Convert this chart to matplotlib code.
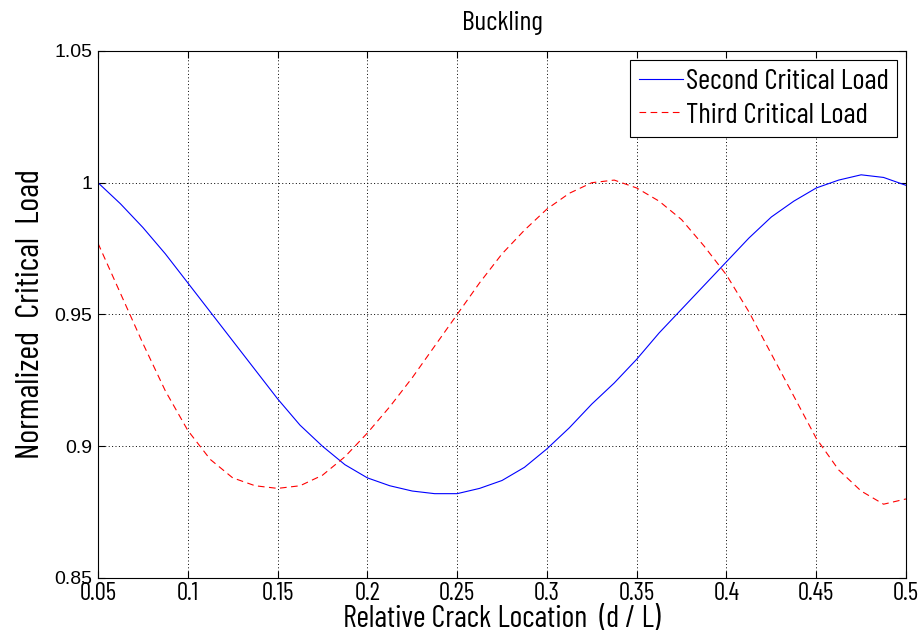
import numpy as np
import matplotlib
matplotlib.use('Agg')
import matplotlib.pyplot as plt

# Relative crack location d/L
crack_loc = [0.05, 0.0625, 0.075, 0.0875, 0.1, 0.1125, 0.125, 0.1375, 0.15, 0.1625,
             0.175, 0.1875, 0.2, 0.2125, 0.225, 0.2375, 0.25, 0.2625, 0.275, 0.2875,
             0.3, 0.3125, 0.325, 0.3375, 0.35, 0.3625, 0.375, 0.3875, 0.4, 0.4125,
             0.425, 0.4375, 0.45, 0.4625, 0.475, 0.4875, 0.5]

# Normalized critical loads
second_load = [1.000, 0.992, 0.983, 0.973, 0.962, 0.951, 0.940, 0.929, 0.918, 0.908,
               0.900, 0.893, 0.888, 0.885, 0.883, 0.882, 0.882, 0.884, 0.887, 0.892,
               0.899, 0.907, 0.916, 0.924, 0.933, 0.943, 0.952, 0.961, 0.970, 0.979,
               0.987, 0.993, 0.998, 1.001, 1.003, 1.002, 0.999]
third_load = [0.977, 0.958, 0.939, 0.921, 0.906, 0.895, 0.888, 0.885, 0.884, 0.885,
              0.889, 0.896, 0.905, 0.915, 0.926, 0.938, 0.950, 0.962, 0.973, 0.982,
              0.990, 0.996, 1.000, 1.001, 0.998, 0.993, 0.986, 0.976, 0.965, 0.951,
              0.935, 0.919, 0.903, 0.891, 0.883, 0.878, 0.880]

x_ticks = [0.05, 0.1, 0.15, 0.2, 0.25, 0.3, 0.35, 0.4, 0.45, 0.5]
x_tick_labels = ['0.05', '0.1', '0.15', '0.2', '0.25', '0.3', '0.35', '0.4', '0.45', '0.5']
y_ticks = [0.85, 0.9, 0.95, 1.0, 1.05]
y_tick_labels = ['0.85', '0.9', '0.95', '1', '1.05']

narrow = ['Barlow Condensed', 'DejaVu Sans']

fig = plt.figure(figsize=(9.23, 6.41), dpi=100)
ax = fig.add_axes([0.1062, 0.0983, 0.8754, 0.8222])

ax.plot(crack_loc, second_load, color='blue', linewidth=0.8, label='Second Critical Load')
ax.plot(crack_loc, third_load, color='red', linewidth=0.8, linestyle=(0, (6, 4)),
        label='Third Critical Load')

ax.set_xlim(0.05, 0.5)
ax.set_ylim(0.85, 1.05)
ax.set_xticks(x_ticks)
ax.set_xticklabels(x_tick_labels, family=narrow, fontsize=18)
ax.set_yticks(y_ticks)
ax.set_yticklabels(y_tick_labels, family='Liberation Sans', fontsize=14)
ax.tick_params(direction='in', top=True, right=True, length=5, width=0.8)
ax.tick_params(axis='x', pad=3)
ax.tick_params(axis='y', pad=4)
ax.grid(True, linestyle=(0, (1, 2.5)), color='black', linewidth=0.7)

ax.set_title('Buckling', family=narrow, fontsize=20, pad=15)
ax.set_xlabel('Relative Crack Location  (d / L)', family=narrow, fontsize=22, labelpad=0)
ax.set_ylabel('Normalized  Critical  Load', family=narrow, fontsize=24, labelpad=6)

leg = ax.legend(loc='upper right', prop={'family': narrow, 'size': 21}, fancybox=False,
                edgecolor='black', framealpha=1, handlelength=1.5, handletextpad=0.1,
                borderaxespad=0.3, labelspacing=0.25, borderpad=0.3)
leg.get_frame().set_linewidth(0.8)

fig.savefig('out.png', dpi=100)
